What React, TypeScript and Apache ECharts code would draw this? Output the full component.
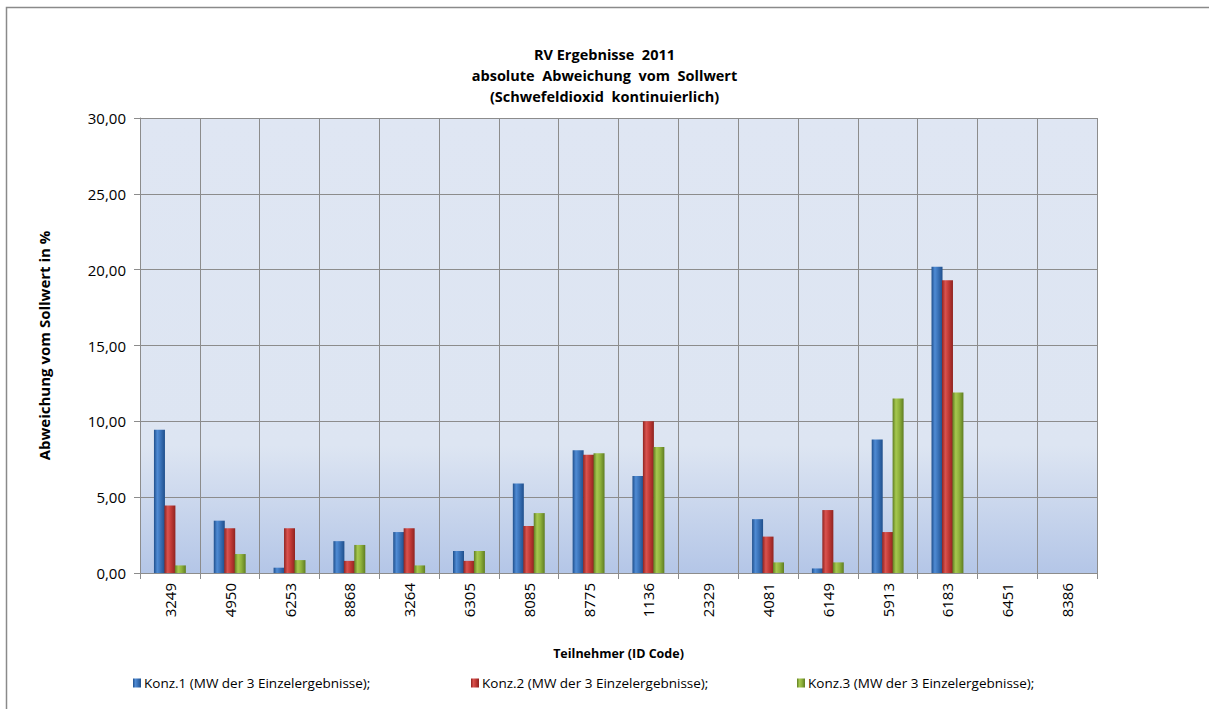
import React, { useEffect, useRef } from "react";
import * as echarts from "echarts";

const categories = ["3249", "4950", "6253", "8868", "3264", "6305", "8085", "8775", "1136", "2329", "4081", "6149", "5913", "6183", "6451", "8386"];
const konz1 = [9.45, 3.45, 0.35, 2.1, 2.7, 1.45, 5.9, 8.1, 6.4, null, 3.55, 0.3, 8.8, 20.2, null, null];
const konz2 = [4.45, 2.95, 2.95, 0.8, 2.95, 0.8, 3.1, 7.8, 10.0, null, 2.4, 4.15, 2.7, 19.3, null, null];
const konz3 = [0.5, 1.25, 0.85, 1.85, 0.5, 1.45, 3.95, 7.9, 8.3, null, 0.7, 0.7, 11.5, 11.9, null, null];
const seriesNames = [
  "Konz.1 (MW der 3 Einzelergebnisse);",
  "Konz.2 (MW der 3 Einzelergebnisse);",
  "Konz.3 (MW der 3 Einzelergebnisse);",
];
const titleLines = ["RV Ergebnisse  2011", "absolute  Abweichung  vom  Sollwert", "(Schwefeldioxid  kontinuierlich)"];
const yAxisName = "Abweichung vom Sollwert in %";
const xAxisName = "Teilnehmer (ID Code)";

const FONT = "'Open Sans', 'Noto Sans', sans-serif";

function barGrad(dark: string, mid: string, light: string) {
  return new echarts.graphic.LinearGradient(0, 0, 1, 0, [
    { offset: 0, color: dark },
    { offset: 0.3, color: light },
    { offset: 0.6, color: mid },
    { offset: 1, color: dark },
  ]);
}

export default function App() {
  const ref = useRef<HTMLDivElement>(null);
  useEffect(() => {
    document.body.style.margin = "0";
    const chart = echarts.init(ref.current!, null, { renderer: "svg" });
    const colors = [
      barGrad("#1f4f8c", "#3a72b8", "#4f8bd4"),
      barGrad("#8f2320", "#c23a36", "#d9534f"),
      barGrad("#5f7d22", "#8fb23c", "#a6c84f"),
    ];
    const datas = [konz1, konz2, konz3];
    chart.setOption({
      animation: false,
      backgroundColor: "#ffffff",
      title: {
        text: titleLines.join("\n"),
        left: "center",
        top: 39,
        textStyle: { fontFamily: FONT, fontSize: 14.5, fontWeight: "bold", color: "#000", lineHeight: 21 },
      },
      graphic: [
        {
          type: "rect",
          shape: { x: 6.5, y: 7.5, width: 1300, height: 800 },
          style: { fill: "none", stroke: "#8a8a8a", lineWidth: 1.5 },
          silent: true,
          z: -1,
        },
      ],
      legend: [0, 1, 2].map((i) => ({
        data: [seriesNames[i]],
        left: [133, 471, 797][i],
        top: 676,
        padding: 0,
        itemWidth: 8,
        itemHeight: 9,
        icon: "rect",
        itemGap: 5,
        textStyle: { fontFamily: FONT, fontSize: 13.5, color: "#000", padding: [0, 0, 0, -2] },
      })),
      grid: {
        left: 140,
        right: 112,
        top: 118,
        bottom: 136,
        show: true,
        borderWidth: 0,
        backgroundColor: new echarts.graphic.LinearGradient(0, 0, 0, 1, [
          { offset: 0, color: "#dfe6f3" },
          { offset: 0.72, color: "#dde5f2" },
          { offset: 1, color: "#b4c6e7" },
        ]),
      },
      xAxis: {
        type: "category",
        data: categories,
        boundaryGap: true,
        name: xAxisName,
        nameLocation: "middle",
        nameGap: 74,
        nameTextStyle: { fontFamily: FONT, fontSize: 12.5, fontWeight: "bold", color: "#000" },
        axisLine: { lineStyle: { color: "#8c8c8c", width: 1 } },
        axisTick: { show: true, interval: 0, length: 6, lineStyle: { color: "#8c8c8c" } },
        axisLabel: { interval: 0, rotate: 90, margin: 10, fontFamily: FONT, fontSize: 15, color: "#000" },
        splitLine: { show: true, interval: 0, lineStyle: { color: "#8c8c8c", width: 1 } },
      },
      yAxis: {
        type: "value",
        min: 0,
        max: 30,
        interval: 5,
        name: yAxisName,
        nameLocation: "middle",
        nameGap: 89,
        nameTextStyle: { fontFamily: FONT, fontSize: 15, fontWeight: "bold", color: "#000" },
        axisLine: { show: true, lineStyle: { color: "#8c8c8c", width: 1 } },
        axisTick: { show: true, length: 6, lineStyle: { color: "#8c8c8c" } },
        axisLabel: {
          margin: 14,
          fontFamily: FONT,
          fontSize: 15,
          color: "#000",
          formatter: (v: number) => v.toFixed(2).replace(".", ","),
        },
        splitLine: { show: true, lineStyle: { color: "#8c8c8c", width: 1 } },
      },
      series: [0, 1, 2].map((i) => ({
        name: seriesNames[i],
        type: "bar",
        data: datas[i],
        barWidth: 11,
        barGap: "-5%",
        itemStyle: { color: colors[i] },
      })),
    });
    return () => chart.dispose();
  }, []);
  return <div ref={ref} style={{ width: 1209, height: 709 }} />;
}
